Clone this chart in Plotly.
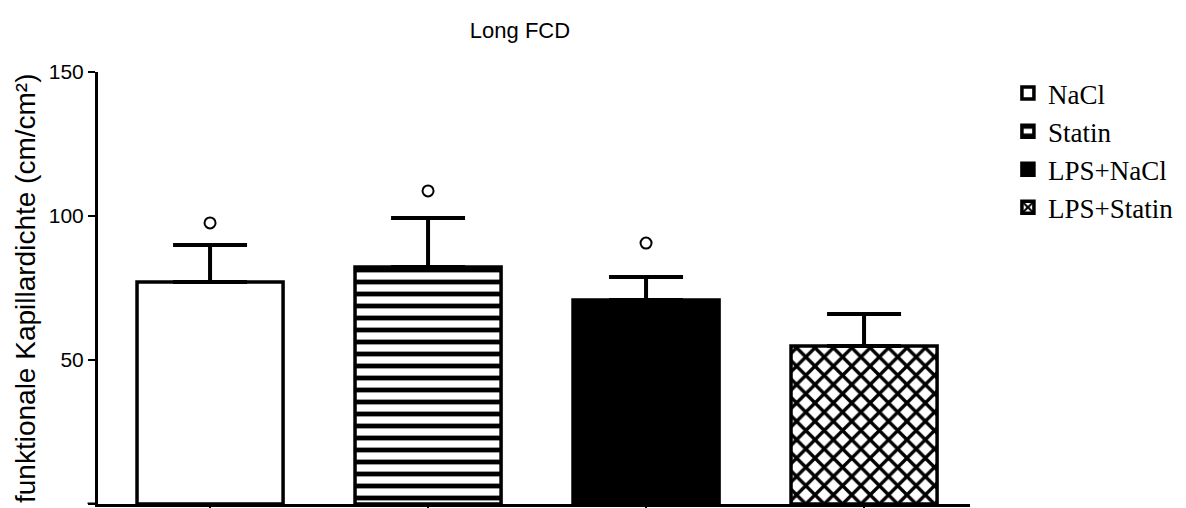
import plotly.graph_objects as go

groups = ["NaCl", "Statin", "LPS+NaCl", "LPS+Statin"]
means = [77.1, 82.3, 70.8, 54.9]
sem_plus = [12.8, 17.0, 8.0, 11.1]
marker_y = [97.6, 108.7, 90.6, None]
y_ticks = [0, 50, 100, 150]

# page has an 8px body margin, so the figure is laid out 8px smaller
W, H = 1178, 500
L, T, R, B = 90, 64, 216, 4

fills = [
    dict(color="white", pattern=dict(shape="")),
    dict(color="white", pattern=dict(shape="-", fgcolor="black", bgcolor="white", size=12,
                                     solidity=0.4, fgopacity=1, fillmode="replace")),
    dict(color="black", pattern=dict(shape="")),
    dict(color="white", pattern=dict(shape="x", fgcolor="black", bgcolor="white", size=13,
                                     solidity=0.45, fgopacity=1, fillmode="replace")),
]

fig = go.Figure()
for i, g in enumerate(groups):
    fig.add_trace(go.Bar(
        x=[i], y=[means[i]], name=g, width=0.67,
        marker=dict(color=fills[i]["color"], pattern=fills[i]["pattern"],
                    line=dict(color="black", width=3.5)),
        error_y=dict(type="data", symmetric=False, array=[sem_plus[i]], arrayminus=[0],
                     color="black", thickness=4, width=37),
    ))

mx = [i for i, v in enumerate(marker_y) if v is not None]
my = [v for v in marker_y if v is not None]
fig.add_trace(go.Scatter(
    x=mx, y=my, mode="markers", showlegend=False,
    marker=dict(symbol="circle-open", size=11, color="black", line=dict(width=2, color="black")),
))

pw = W - L - R
ph = H - T - B
fig.update_layout(
    width=W, height=H,
    margin=dict(l=L, r=R, t=T, b=B),
    paper_bgcolor="white", plot_bgcolor="white",
    title=dict(text="Long FCD", x=512 / W, xref="container", xanchor="center",
               y=1 - 22 / H, yref="container", yanchor="middle",
               font=dict(family="Liberation Sans, Arial", size=22, color="black")),
    legend=dict(x=1.0435, y=1.007, xanchor="left", yanchor="top",
                font=dict(family="Liberation Serif, Times New Roman", size=27, color="black"),
                tracegroupgap=0, bgcolor="rgba(0,0,0,0)"),
    showlegend=True,
    shapes=[dict(type="line", xref="paper", yref="y", x0=-0.012, x1=0, y0=0, y1=0,
                 line=dict(color="black", width=3))],
    annotations=[dict(text="funktionale Kapillardichte (cm/cm²)", textangle=-90,
                      xref="paper", yref="paper",
                      x=(17 - L) / pw, y=0.5,
                      xanchor="center", yanchor="middle", showarrow=False,
                      font=dict(family="Liberation Sans, Arial", size=28, color="black"))],
)
fig.update_xaxes(range=[-0.514, 3.486], tickvals=[0, 1, 2, 3], ticktext=["", "", "", ""],
                 ticks="outside", ticklen=6, tickwidth=2, tickcolor="black", automargin=False,
                 showline=True, linecolor="black", linewidth=3, showgrid=False, zeroline=False)
fig.update_yaxes(range=[0, 150], tickvals=y_ticks, ticks="outside", ticklen=7, tickwidth=2,
                 tickcolor="black", showline=True, linecolor="black", linewidth=3,
                 showgrid=False, zeroline=False, automargin=False,
                 tickfont=dict(family="Liberation Sans, Arial", size=21, color="black"))

fig.write_html("out.html")
